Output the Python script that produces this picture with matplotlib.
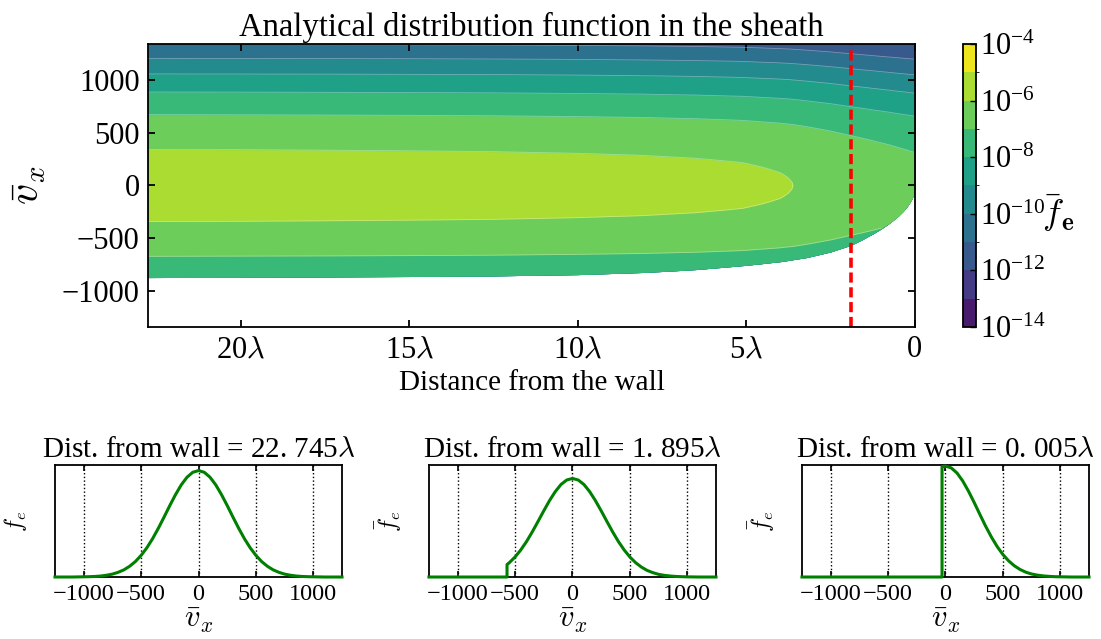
import matplotlib
matplotlib.use("Agg")
import matplotlib.pyplot as plt
from matplotlib.colors import ListedColormap, BoundaryNorm
import matplotlib.cm as cm
import numpy as np

plt.rcParams['font.family'] = 'serif'
plt.rcParams['font.serif'] = ['Liberation Serif', 'DejaVu Serif']
plt.rcParams['mathtext.fontset'] = 'cm'

# distance from the wall (in Debye lengths) where the contour boundaries were read
dist = [0.0, 0.005, 0.03, 0.06, 0.1, 0.17, 0.24, 0.35, 0.5, 0.74, 1.0, 1.25, 1.6, 1.9, 2.5, 3.2,
        3.62, 3.63, 3.65, 3.75, 3.9, 4.0, 4.3, 4.6, 5.1, 5.6, 6.5, 7.3, 8.1, 10.0, 12.5, 15.0,
        17.5, 20.0, 22.745]

# upper velocity of each iso-level of f_e (same velocity, negative, on the lower side)
v_1e11 = [1201, 1201, 1202, 1203, 1204, 1206, 1208, 1210, 1215, 1221, 1228, 1235, 1245, 1253, 1270, 1287,
          1296, 1296, 1297, 1298, 1300, 1302, 1305, 1309, 1314, 1317, 1322, 1325, 1328, 1332, 1336, 1338,
          1339, 1340, 1341]
v_1e10 = [1052, 1052, 1053, 1054, 1055, 1057, 1059, 1063, 1067, 1075, 1083, 1091, 1101, 1111, 1130, 1149,
          1159, 1160, 1160, 1162, 1164, 1166, 1170, 1173, 1180, 1183, 1188, 1191, 1194, 1199, 1203, 1206,
          1207, 1208, 1209]
v_1e9 = [878, 878, 879, 880, 881, 884, 887, 891, 896, 906, 915, 924, 937, 947, 970, 992,
         1004, 1004, 1005, 1007, 1010, 1012, 1016, 1020, 1027, 1031, 1037, 1041, 1044, 1050, 1055, 1057,
         1059, 1060, 1061]
v_1e8 = [660, 660, 661, 662, 664, 667, 671, 676, 683, 696, 708, 719, 736, 749, 778, 805,
         820, 820, 821, 823, 827, 829, 834, 839, 848, 852, 860, 864, 869, 875, 881, 884,
         886, 888, 889]
v_1e7 = [315, 315, 318, 320, 323, 330, 338, 348, 362, 385, 406, 426, 453, 474, 518, 559,
         580, 580, 581, 584, 589, 593, 600, 607, 619, 625, 635, 641, 647, 655, 663, 667,
         670, 672, 674]
v_1e6 = [np.nan] * 16 + [0, 20, 34, 71, 105, 123, 154, 181, 217, 233, 259, 273, 287, 306, 322, 330,
                         336, 341, 343]
# cut-off velocity (electrons slower than this are reflected / absent)
v_cut = [28, 30, 77, 105, 134, 173, 204, 246, 293, 356, 413, 461, 522, 569, 632, 685,
         706, 707, 708, 713, 720, 725, 735, 746, 762, 776, 800, 815, 828, 848, 860, 866,
         870, 873, 876]

levels = [1e-14, 1e-13, 1e-12, 1e-11, 1e-10, 1e-9, 1e-8, 1e-7, 1e-6, 1e-5, 1e-4]
cbar_ticks = [1e-14, 1e-12, 1e-10, 1e-8, 1e-6, 1e-4]
cbar_labels = [r'$\mathregular{10^{-14}}$', r'$\mathregular{10^{-12}}$', r'$\mathregular{10^{-10}}$',
               r'$\mathregular{10^{-8}}$', r'$\mathregular{10^{-6}}$', r'$\mathregular{10^{-4}}$']

probe_dist = 1.895

# cuts of the distribution at three distances
v_cut1 = [-1250, -1100, -1000, -950, -900, -850, -800, -750, -700, -650, -600, -550, -500, -450,
          -400, -350, -300, -250, -200, -150, -100, -50, 0, 50, 100, 150, 200, 250, 300, 350,
          400, 450, 500, 550, 600, 650, 700, 750, 800, 850, 900, 950, 1000, 1100, 1250]
f_cut1 = [0.0, 0.0, 0.002, 0.003, 0.005, 0.009, 0.016, 0.026, 0.042, 0.064, 0.096, 0.138, 0.193, 0.261,
          0.342, 0.435, 0.535, 0.638, 0.736, 0.823, 0.891, 0.935, 0.950, 0.935, 0.891, 0.823, 0.736, 0.638,
          0.535, 0.435, 0.342, 0.261, 0.193, 0.138, 0.096, 0.064, 0.042, 0.026, 0.016, 0.009, 0.005,
          0.003, 0.002, 0.0, 0.0]
v_cut2 = [-1250, -570, -570, -550, -500, -450, -400, -350, -300, -250, -200, -150, -100, -50, 0,
          50, 100, 150, 200, 250, 300, 350, 400, 450, 500, 550, 600, 650, 700, 750, 800, 850, 900,
          950, 1000, 1100, 1250]
f_cut2 = [0.0, 0.0, 0.111, 0.128, 0.179, 0.242, 0.317, 0.403, 0.496, 0.591, 0.682, 0.762, 0.826,
          0.866, 0.880, 0.866, 0.826, 0.762, 0.682, 0.591, 0.496, 0.403, 0.317, 0.242, 0.179, 0.128,
          0.089, 0.059, 0.039, 0.024, 0.015, 0.009, 0.005, 0.003, 0.0015, 0.0, 0.0]
v_cut3 = [-1250, -30, -30, 0, 50, 100, 150, 200, 250, 300, 350, 400, 450, 500, 550, 600, 650,
          700, 750, 800, 850, 900, 950, 1000, 1100, 1250]
f_cut3 = [0.0, 0.0, 0.985, 0.990, 0.974, 0.929, 0.858, 0.767, 0.665, 0.558, 0.453, 0.357, 0.272,
          0.201, 0.144, 0.100, 0.067, 0.043, 0.027, 0.017, 0.010, 0.006, 0.003, 0.002, 0.0, 0.0]
cut_titles = [r'Dist. from wall = 22. 745$\lambda$', r'Dist. from wall = 1. 895$\lambda$',
              r'Dist. from wall = 0. 005$\lambda$']

# colours of the filled contour bands (viridis, log scale)
lev = np.array(levels)
mids = np.log10((lev[:-1] + lev[1:]) / 2)
band_colors = [cm.viridis((m - np.log10(lev[0])) / (np.log10(lev[-1]) - np.log10(lev[0]))) for m in mids]

fig = plt.figure(figsize=(11.01, 6.39), dpi=100)
ax = fig.add_axes([0.1344, 0.4883, 0.6966, 0.4429])
cax = fig.add_axes([0.8747, 0.4883, 0.0118, 0.4429])

x = np.array(dist)
vc = np.array(v_cut)
ax.fill_between(x, -vc, 1500, color=band_colors[2], lw=0)
for idx, vu in zip([3, 4, 5, 6, 7, 8], [v_1e11, v_1e10, v_1e9, v_1e8, v_1e7, v_1e6]):
    vu = np.array(vu, dtype=float)
    vl = np.minimum(vu, vc)
    ax.fill_between(x, -vl, vu, color=band_colors[idx], lw=0)
    # light seams between the bands, as in a filled contour plot
    ax.plot(x, vu, color='white', lw=0.6, alpha=0.35)
    ax.plot(x, np.where(vu < vc, -vu, np.nan), color='white', lw=0.6, alpha=0.35)

ax.axvline(probe_dist, color='red', lw=2.6, linestyle=(0, (2.8, 1.3)))

ax.set_xlim(22.745, 0)
ax.set_ylim(-1346, 1346)
ax.set_xticks([20, 15, 10, 5, 0])
ax.set_xticklabels([r'20$\lambda$', r'15$\lambda$', r'10$\lambda$', r'5$\lambda$', '0'])
ax.set_yticks([-1000, -500, 0, 500, 1000])
ax.tick_params(direction='in', length=5, width=1.3, labelsize=22, top=True, right=True, pad=6)
for s in ax.spines.values():
    s.set_linewidth(1.3)
ax.set_title('Analytical distribution function in the sheath', fontsize=23.5, pad=6)
ax.set_xlabel('Distance from the wall', fontsize=21, labelpad=4)
ax.set_ylabel(r'$\bar{v}_x$', fontsize=30)
ax.yaxis.set_label_coords(-0.13, 0.5)

sm = plt.cm.ScalarMappable(cmap=ListedColormap(band_colors), norm=BoundaryNorm(levels, 10))
cb = fig.colorbar(sm, cax=cax, ticks=cbar_ticks)
cb.ax.set_yticklabels(cbar_labels)
cb.ax.tick_params(direction='in', length=4, width=1, labelsize=22, pad=3)
cb.outline.set_linewidth(1.3)
fig.text(1058 / 1101, 1 - 213 / 639, r'$\bar{f}_\mathbf{e}$', ha='center', va='center', fontsize=26)

lefts = [0.04995, 0.3896, 0.7284]
cuts = [(v_cut1, f_cut1), (v_cut2, f_cut2), (v_cut3, f_cut3)]
for left, (vv, ff), title in zip(lefts, cuts, cut_titles):
    bx = fig.add_axes([left, 0.0970, 0.2607, 0.1753])
    bx.plot(vv, ff, color='green', lw=2.2, zorder=3, clip_on=False)
    bx.set_xlim(-1250, 1250)
    bx.set_ylim(0, 1.0)
    bx.set_xticks([-1000, -500, 0, 500, 1000])
    bx.set_yticks([])
    bx.grid(axis='x', color='k', linestyle=':', lw=1)
    bx.tick_params(direction='in', length=4, width=1.2, labelsize=17.5, top=True, pad=5)
    for s in bx.spines.values():
        s.set_linewidth(1.3)
    bx.set_title(title, fontsize=21, pad=6)
    bx.set_xlabel(r'$\bar{v}_x$', fontsize=22, labelpad=1)
    bx.set_ylabel(r'$\bar{f}_e$', fontsize=17, ha='center', va='center')
    bx.yaxis.set_label_coords(-0.14, 0.5)

fig.savefig('out.png', dpi=100)
